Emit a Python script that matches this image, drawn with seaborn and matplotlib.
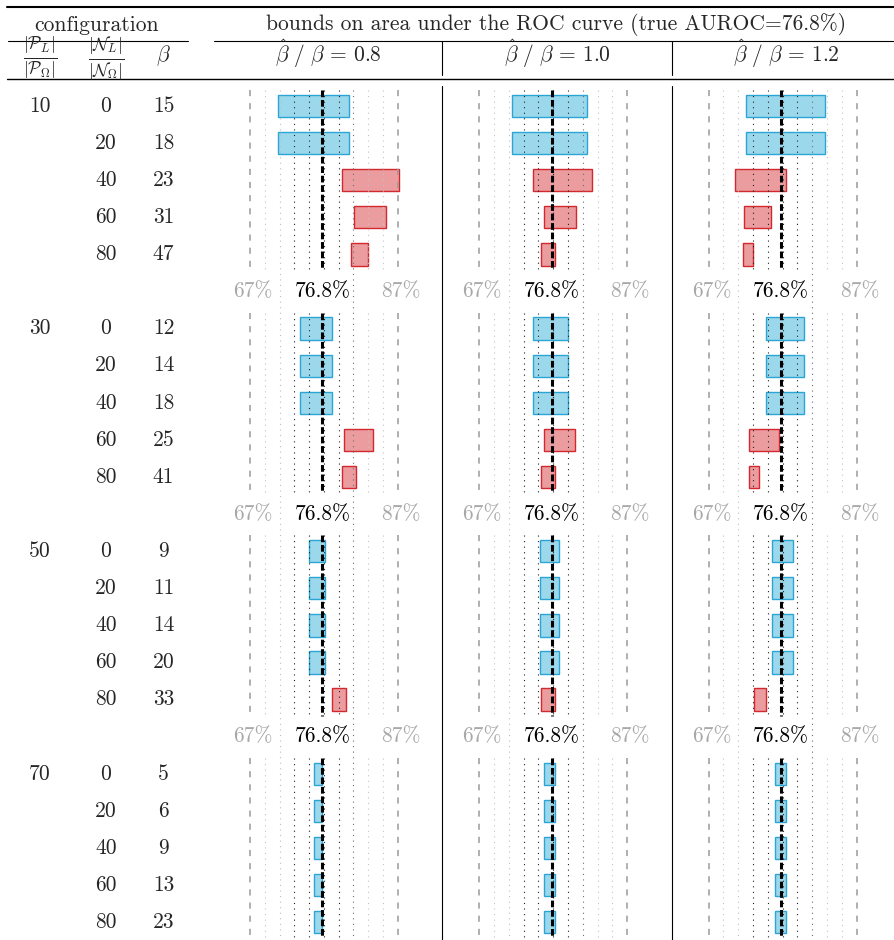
import seaborn as sns
import numpy as np
import pandas as pd
import matplotlib.pyplot as plt
from matplotlib.lines import Line2D

# configuration columns (one entry per table row)
pos_pct = [10, 10, 10, 10, 10, 30, 30, 30, 30, 30, 50, 50, 50, 50, 50, 70, 70, 70, 70, 70]
neg_pct = [0, 20, 40, 60, 80, 0, 20, 40, 60, 80, 0, 20, 40, 60, 80, 0, 20, 40, 60, 80]
beta_true = [15, 18, 23, 31, 47, 12, 14, 18, 25, 41, 9, 11, 14, 20, 33, 5, 6, 9, 13, 23]
# 1 = blue interval, 0 = red interval
valid = [1, 1, 0, 0, 0, 1, 1, 1, 0, 0, 1, 1, 1, 1, 0, 1, 1, 1, 1, 1]

ratios = ['0.8', '1.0', '1.2']

# lower / upper AUROC bounds (%) for each beta-hat / beta ratio
lo_08 = [70.8, 70.8, 79.5, 81.1, 80.7, 73.7, 73.7, 73.7, 79.7, 79.4, 75.0, 75.0, 75.0, 75.0, 78.1, 75.6, 75.6, 75.6, 75.6, 75.6]
hi_08 = [80.4, 80.4, 87.2, 85.4, 82.9, 78.1, 78.1, 78.1, 83.6, 81.4, 77.1, 77.1, 77.1, 77.1, 80.0, 76.8, 76.8, 76.8, 76.8, 76.8]
lo_10 = [71.4, 71.4, 74.2, 75.7, 75.4, 74.2, 74.2, 74.2, 75.7, 75.4, 75.2, 75.2, 75.2, 75.2, 75.4, 75.8, 75.8, 75.8, 75.8, 75.8]
hi_10 = [81.6, 81.6, 82.2, 80.1, 77.3, 79.0, 79.0, 79.0, 80.0, 77.3, 77.8, 77.8, 77.8, 77.8, 77.3, 77.2, 77.2, 77.2, 77.2, 77.2]
lo_12 = [72.1, 72.1, 70.6, 71.8, 71.6, 74.7, 74.7, 74.7, 72.5, 72.4, 75.6, 75.6, 75.6, 75.6, 73.1, 76.0, 76.0, 76.0, 76.0, 76.0]
hi_12 = [82.8, 82.8, 77.5, 75.4, 73.0, 79.9, 79.9, 79.9, 76.5, 73.8, 78.4, 78.4, 78.4, 78.4, 74.8, 77.5, 77.5, 77.5, 77.5, 77.5]

true_auroc = 76.8
grid_lo, grid_hi = 67, 87
dark_dots = [73, 75, 77, 79]
light_dots = [69, 83, 85]
long_dots = [71, 81]

n_cfg = len(beta_true)
rows = []
for k in range(n_cfg):
    rows.append((k // 5) * 6 + k % 5)

frames = []
for r, lo, hi in zip(ratios, [lo_08, lo_10, lo_12], [hi_08, hi_10, hi_12]):
    frames.append(pd.DataFrame({'ratio': r, 'row': rows, 'lo': lo, 'hi': hi, 'valid': valid}))
df = pd.concat(frames, ignore_index=True)

sns.set_theme(style='white')
plt.rcParams['font.family'] = ['cmr10', 'DejaVu Serif']
plt.rcParams['mathtext.fontset'] = 'cm'
plt.rcParams['axes.formatter.use_mathtext'] = True

W, H = 894, 940
fig = plt.figure(figsize=(W / 100, H / 100), dpi=100)


def fx(x):
    return x / W


def fy(y):
    return 1 - y / H


fs = 15.5
row0, pitch = 106, 37.1
px_per = 7.39
x67 = [250, 479.3, 708.7]

blue_face = (0.23, 0.70, 0.85, 0.5)
blue_edge = '#2aa5d5'
red_face = (0.84, 0.23, 0.25, 0.5)
red_edge = '#d2282e'

for p, r in enumerate(ratios):
    ax = fig.add_axes([fx(x67[p] - 5 * px_per), fy(940), 30 * px_per / W, (940 - 86) / H])
    ax.set_xlim(62, 92)
    ax.set_ylim((940 - row0) / pitch, (86 - row0) / pitch)
    ax.axis('off')

    # grid lines for each block of five rows
    for g in range(4):
        y0, y1 = g * 6 - 0.43, g * 6 + 4.43
        ax.vlines([grid_lo, grid_hi], y0, y1, colors='#9a9a9a', lw=1.1,
                  linestyles=[(0, (4, 4.6))], zorder=3)
        ax.vlines(light_dots, y0, y1, colors='#c4c4c4', lw=0.8,
                  linestyles=[(0, (1, 4))], zorder=3)
        ax.vlines(dark_dots, y0, y1, colors='#202020', lw=0.8,
                  linestyles=[(0, (1, 4))], zorder=3)
        ax.vlines(true_auroc, y0, y1, colors='black', lw=2.2,
                  linestyles=[(0, (2.2, 0.9))], zorder=4)
    ax.vlines(long_dots[0], -0.43, 22.43, colors='#bdbdbd', lw=0.8,
              linestyles=[(0, (1, 4))], zorder=3)
    ax.vlines(long_dots[1], -0.43, 22.43, colors='#6e6e6e', lw=0.8,
              linestyles=[(0, (1, 4))], zorder=3)

    sub = df[df['ratio'] == r]
    for ok, face, edge in [(1, blue_face, blue_edge), (0, red_face, red_edge)]:
        part = sub[sub['valid'] == ok]
        ax.barh(part['row'], part['hi'] - part['lo'], left=part['lo'], height=0.6,
                facecolor=face, edgecolor=edge, lw=1.0, zorder=2)

    # scale labels between blocks
    for g in range(3):
        yl = g * 6 + 5
        ax.text(grid_lo + 0.4, yl, f'{grid_lo}%', ha='center', va='center', fontsize=fs, color='#a8a8a8')
        ax.text(true_auroc, yl, f'{true_auroc}%', ha='center', va='center', fontsize=fs, color='black')
        ax.text(grid_hi + 0.4, yl, f'{grid_hi}%', ha='center', va='center', fontsize=fs, color='#a8a8a8')

# configuration columns
for k in range(n_cfg):
    y = row0 + pitch * rows[k]
    if k % 5 == 0:
        fig.text(fx(40), fy(y), str(pos_pct[k]), ha='center', va='center', fontsize=fs)
    fig.text(fx(106), fy(y), str(neg_pct[k]), ha='center', va='center', fontsize=fs)
    fig.text(fx(163.5), fy(y), str(beta_true[k]), ha='center', va='center', fontsize=fs)

# header
fig.text(fx(97), fy(25), 'configuration', ha='center', va='center', fontsize=fs)
fig.text(fx(556), fy(25), 'bounds on area under the ROC curve (true AUROC=76.8%)',
         ha='center', va='center', fontsize=fs)
fig.text(fx(40), fy(58), r'$\frac{|\mathcal{P}_L|}{|\mathcal{P}_\Omega|}$', ha='center', va='center', fontsize=18)
fig.text(fx(106), fy(58), r'$\frac{|\mathcal{N}_L|}{|\mathcal{N}_\Omega|}$', ha='center', va='center', fontsize=18)
fig.text(fx(163), fy(56), r'$\beta$', ha='center', va='center', fontsize=fs)
for xc, r in zip([328, 557, 786], ratios):
    fig.text(fx(xc), fy(54), r'$\hat{\beta}\ /\ \beta\,=\,' + r + '$', ha='center', va='center', fontsize=fs)

# table rules
rules = [(7, 894, 6.5, 1.5), (8, 188, 40.7, 0.8), (214, 894, 40.7, 0.8), (7, 894, 79, 1.0)]
for x0, x1, y, lw in rules:
    fig.add_artist(Line2D([fx(x0), fx(x1)], [fy(y), fy(y)], color='black', lw=lw))
for xs in [442.3, 671.7]:
    fig.add_artist(Line2D([fx(xs), fx(xs)], [fy(40.7), fy(75)], color='black', lw=0.8))
    fig.add_artist(Line2D([fx(xs), fx(xs)], [fy(86), fy(940)], color='black', lw=0.8))

fig.savefig('out.png', dpi=100)
